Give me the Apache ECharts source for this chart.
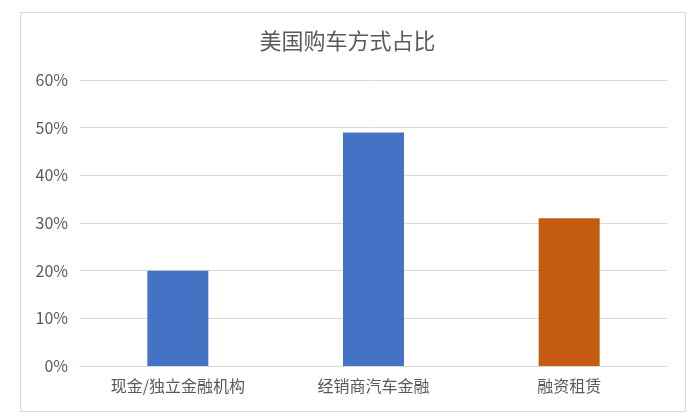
<!DOCTYPE html>
<html>
<head>
<meta charset="utf-8">
<script src="https://cdn.jsdelivr.net/npm/echarts@6/dist/echarts.min.js"></script>
<style>
html,body{margin:0;padding:0;background:#fff;}
#chart{width:695px;height:418px;}
</style>
</head>
<body>
<div id="chart"></div>
<script>
var categories = ['现金/独立金融机构', '经销商汽车金融', '融资租赁'];
var values = [0.20, 0.49, 0.31];
var barColors = ['#4472C4', '#4472C4', '#C55A11'];
var titleText = '美国购车方式占比';

var chart = echarts.init(document.getElementById('chart'));
var font = '"Noto Sans CJK SC", "Microsoft YaHei", sans-serif';
chart.setOption({
  animation: false,
  backgroundColor: '#fff',
  textStyle: { fontFamily: font },
  graphic: [{
    type: 'rect',
    shape: { x: 20.5, y: 12.5, width: 665, height: 399 },
    style: { fill: 'none', stroke: '#d9d9d9', lineWidth: 1 },
    silent: true
  }],
  title: {
    text: titleText,
    left: 'center',
    top: 25,
    textStyle: { fontSize: 22, fontWeight: 'normal', color: '#595959', fontFamily: font }
  },
  grid: { left: 80, right: 28, top: 80, bottom: 52 },
  xAxis: {
    type: 'category',
    data: categories,
    axisTick: { show: false },
    axisLine: { lineStyle: { color: '#d9d9d9' } },
    axisLabel: { color: '#595959', fontSize: 16, margin: 12, fontFamily: font }
  },
  yAxis: {
    type: 'value',
    min: 0,
    max: 0.6,
    interval: 0.1,
    axisLine: { show: false },
    axisTick: { show: false },
    splitLine: { lineStyle: { color: '#d9d9d9' } },
    axisLabel: {
      color: '#595959', fontSize: 16, margin: 12, fontFamily: font,
      formatter: function (v) { return Math.round(v * 100) + '%'; }
    }
  },
  series: [{
    type: 'bar',
    barWidth: 61,
    data: values.map(function (v, i) { return { value: v, itemStyle: { color: barColors[i] } }; })
  }]
});
</script>
</body>
</html>
